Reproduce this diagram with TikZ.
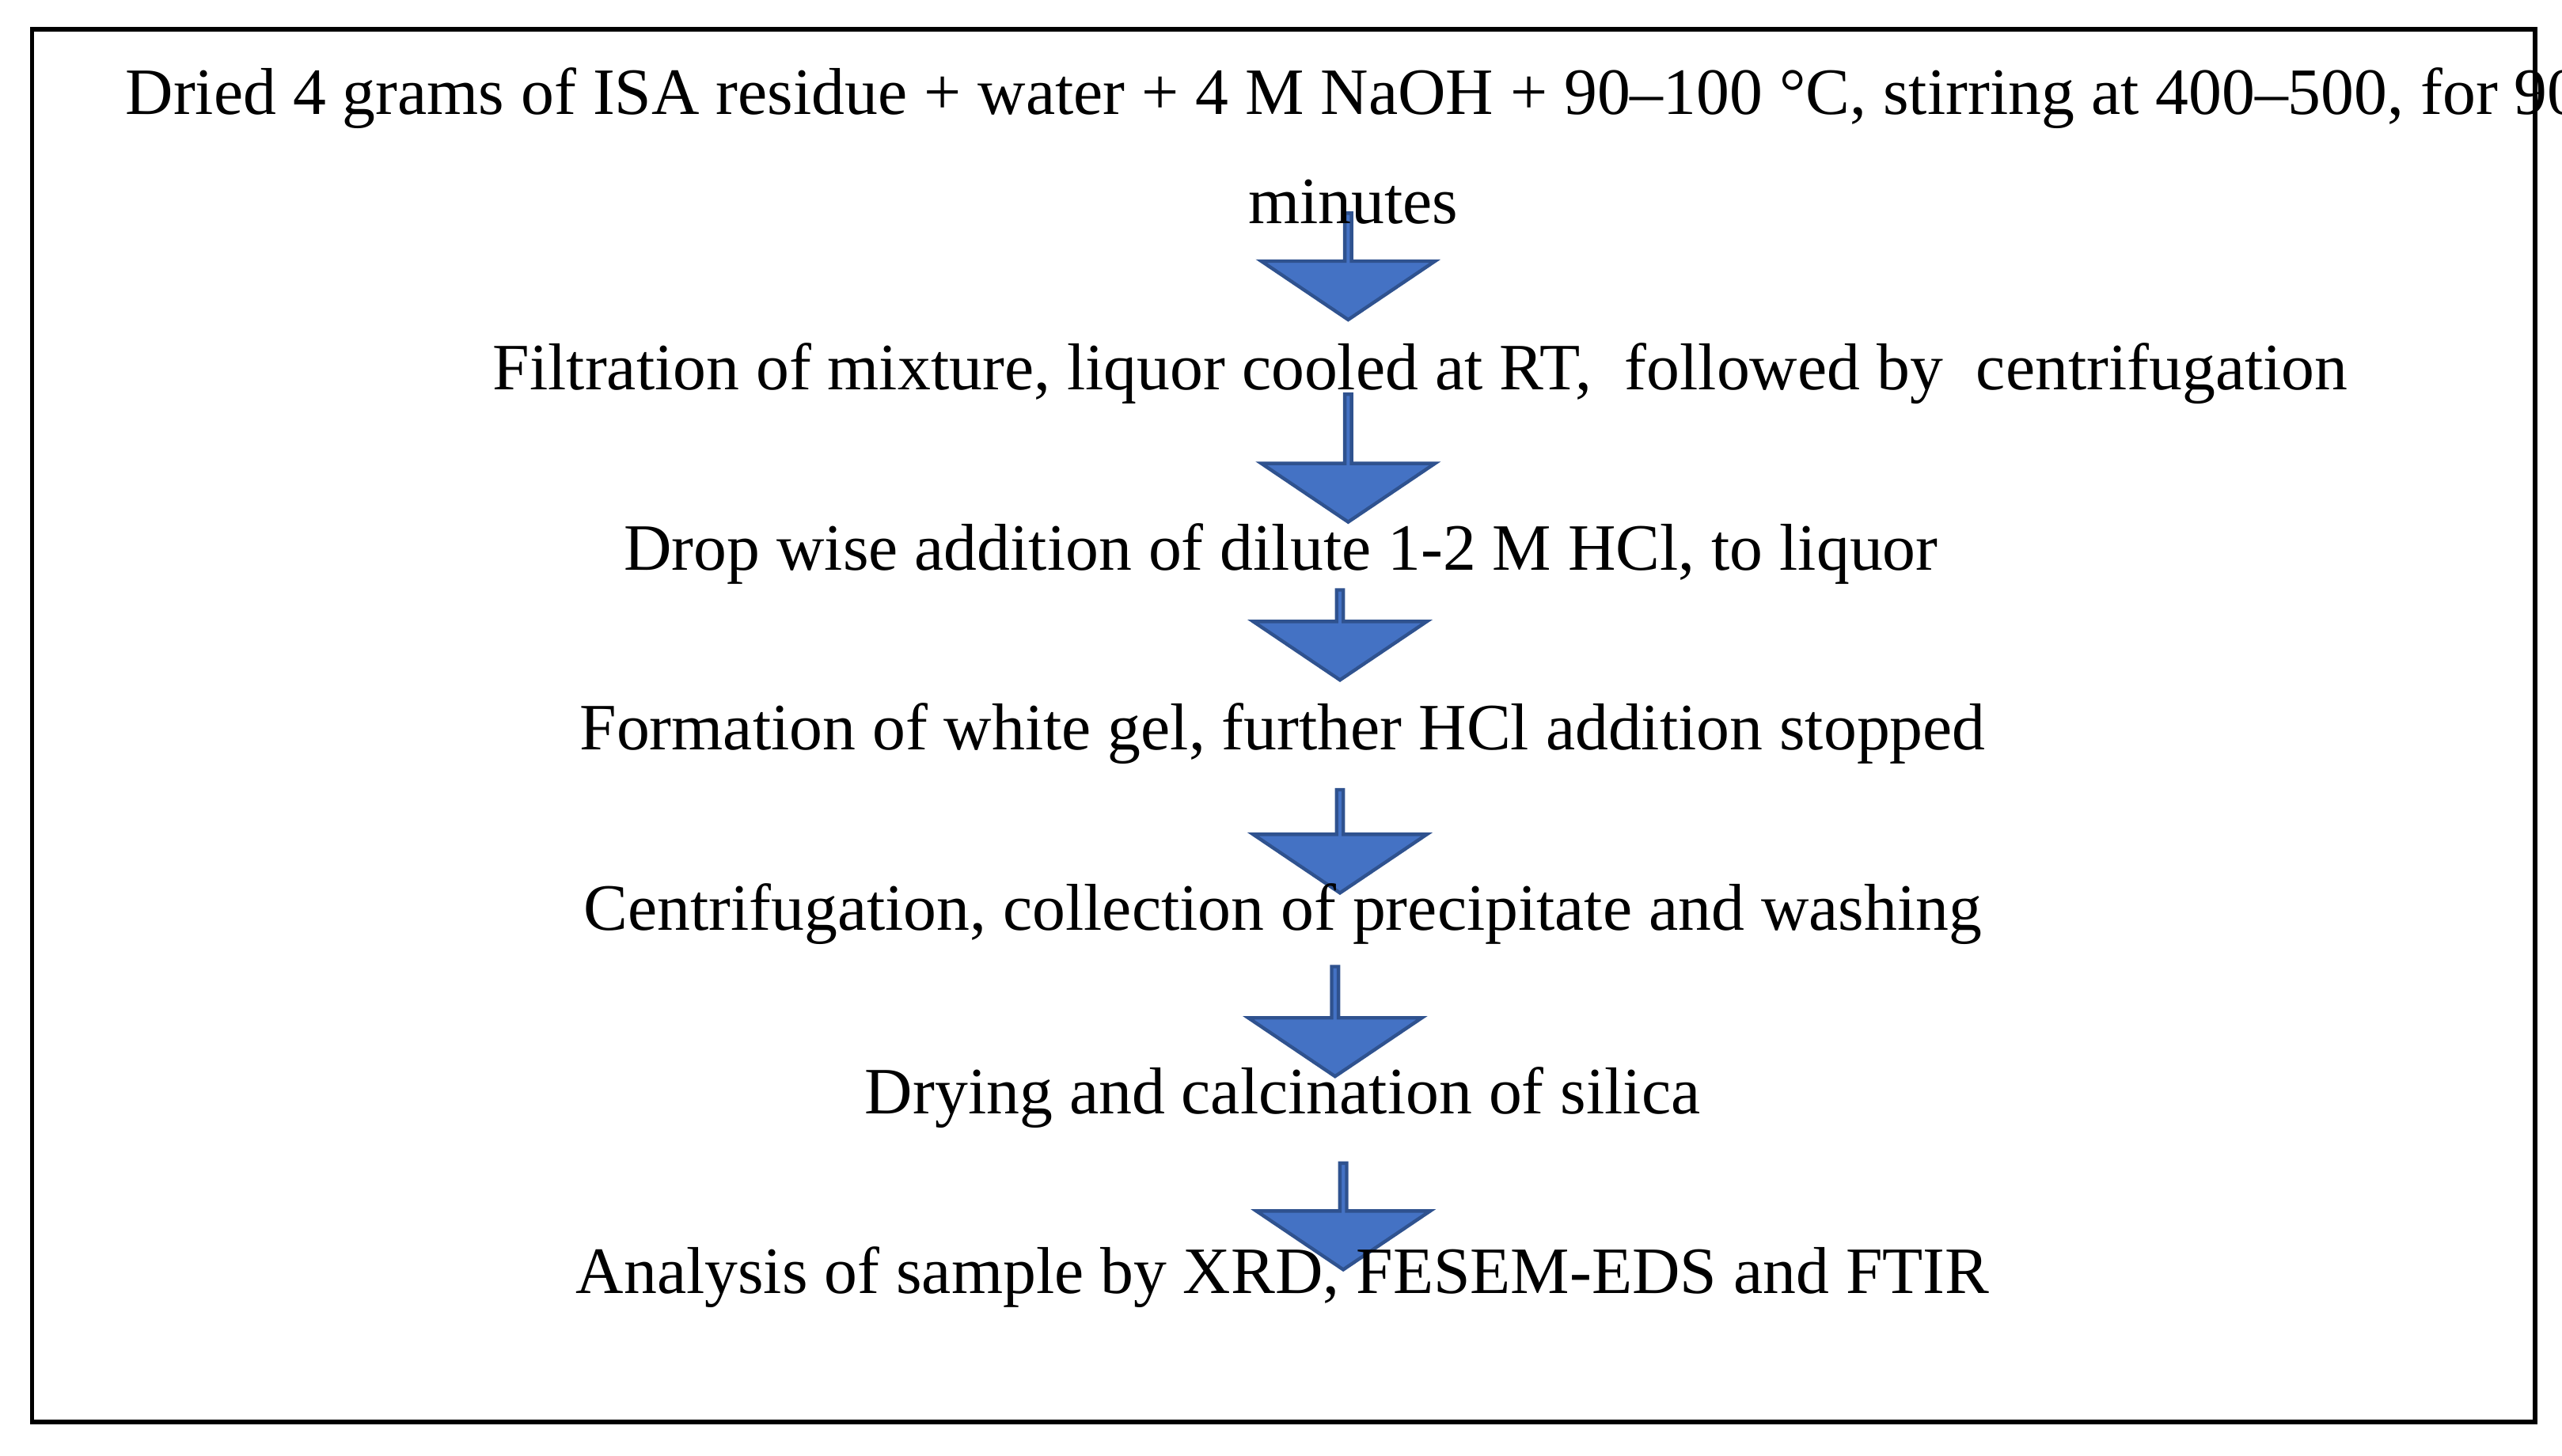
\documentclass[tikz,border=0pt]{standalone}
\usepackage{fontspec}
\setmainfont{Liberation Serif}
\usetikzlibrary{shapes.arrows}
\definecolor{arrowblue}{RGB}{68,114,196}
\definecolor{arrowedge}{RGB}{47,82,143}

\begin{document}
\begin{tikzpicture}[%
    x = 0.01cm,
    y = -0.01cm,
    stage/.style = {%
      font = \fontsize{11.5}{15.5}\selectfont,
      align = center,
      inner sep = 0pt },
    down/.style = {%
      single arrow,
      shape border rotate = 270,
      fill = arrowblue,
      draw = arrowedge,
      line width = 0.6pt,
      minimum width = 1.06cm,
      single arrow head extend = 0.26cm,
      single arrow tip angle = 112,
      inner sep = 0pt }
  ]

  \useasboundingbox (0,0) rectangle (1564,889);
  \node[draw, line width=0.8pt, minimum width=15.27cm, minimum height=8.5cm, inner sep=0pt]
    (frame) at (783.5,443) {};

  % arrows between the steps
  \node[down, minimum height=0.65cm] (a1) at (823,162) {};
  \node[down, minimum height=0.78cm] (a2) at (823,279) {};
  \node[down, minimum height=0.55cm] (a3) at (818,387) {};
  \node[down, minimum height=0.63cm] (a4) at (818,513) {};
  \node[down, minimum height=0.67cm] (a5) at (815,623) {};
  \node[down, minimum height=0.65cm] (a6) at (820,742) {};

  % steps
  \node[stage] (s1) at (826,89) {Dried 4 grams of ISA residue + water + 4 M NaOH + 90–100 °C, stirring at 400–500, for 90\\[0.12cm] minutes};
  \node[stage] (s2) at (867,228) {Filtration of mixture, liquor cooled at RT,\ \ followed by\ \ centrifugation};
  \node[stage] (s3) at (782,338) {Drop wise addition of dilute 1-2 M HCl, to liquor};
  \node[stage] (s4) at (783,448) {Formation of white gel, further HCl addition stopped};
  \node[stage] (s5) at (783,558) {Centrifugation, collection of precipitate and washing};
  \node[stage] (s6) at (783,670) {Drying and calcination of silica};
  \node[stage] (s7) at (783,780) {Analysis of sample by XRD, FESEM-EDS and FTIR};

\end{tikzpicture}
\end{document}
